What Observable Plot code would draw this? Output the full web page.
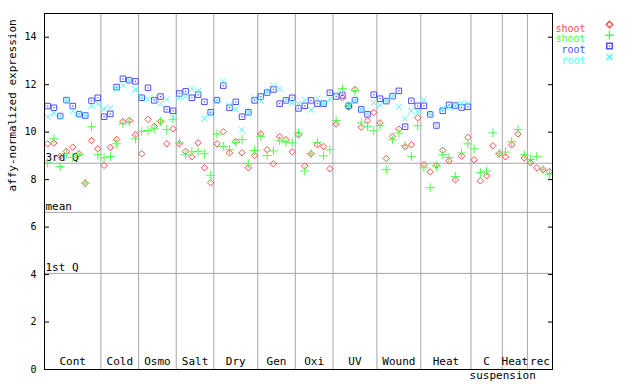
<!DOCTYPE html>
<html><head><meta charset="utf-8">
<script src="https://cdn.jsdelivr.net/npm/d3@7"></script>
<script src="https://cdn.jsdelivr.net/npm/@observablehq/plot@0.6"></script>
<style>body{margin:0;background:#fff}</style>
</head><body><div id="chart"></div>
<script>
const groups = ["Cont","Cold","Osmo","Salt","Dry","Gen","Oxi","UV","Wound","Heat","C","Heat","rec"];
const groupSizes = [9,6,6,6,7,6,6,7,7,8,5,4,4];
const subLabel = "suspension";
const subLabelGroup = 10;
const yLabel = "affy-normalized expression";

const shootRep1 = [9.51,9.54,8.99,9.19,9.37,9.09,7.85,9.65,9.30,
  8.60,9.36,9.69,10.45,10.49,9.89,
  9.09,10.54,10.24,10.45,9.51,10.14,
  9.51,9.19,8.96,9.55,8.50,7.87,
  9.51,10.02,9.13,9.61,9.13,8.50,9.02,
  9.93,9.26,8.67,9.82,9.69,9.17,
  9.89,8.57,9.09,9.47,9.40,8.46,
  10.34,11.45,11.05,11.80,10.21,10.49,10.83,
  10.39,8.89,9.82,10.13,9.38,9.47,10.61,
  8.63,8.33,8.60,9.23,8.79,7.99,8.99,9.78,
  8.84,7.95,8.16,9.43,9.09,
  8.96,9.47,9.93,8.91,
  8.71,8.50,8.42,8.34];
const shootRep2 = [8.71,9.72,8.55,9.09,8.93,9.06,7.85,10.23,9.05,
  8.92,8.98,9.51,10.35,10.45,9.72,
  10.03,10.07,10.14,10.46,10.11,10.54,
  9.54,9.05,9.17,9.19,9.09,8.18,
  9.92,9.40,9.26,9.57,9.69,8.67,9.23,
  9.82,9.02,9.21,9.64,9.58,9.55,
  9.96,8.37,9.09,9.57,9.00,9.26,
  10.49,11.83,11.10,11.76,10.39,10.25,10.06,
  10.27,8.42,9.68,9.96,9.44,8.98,10.27,
  8.50,7.66,8.57,9.05,8.93,8.13,9.12,9.51,
  9.30,8.29,8.36,9.97,9.09,
  9.16,9.60,10.11,9.05,
  8.85,8.98,8.43,8.23];
const rootRep1 = [11.10,11.03,10.68,11.35,11.10,10.76,10.70,11.32,11.45,
  10.65,10.77,11.90,12.25,12.19,12.14,
  11.45,11.87,11.34,11.50,10.96,10.90,
  11.63,11.72,11.45,11.58,11.28,10.84,
  11.35,11.96,11.03,11.28,10.65,10.84,11.34,
  11.50,11.67,11.80,11.20,11.34,11.45,
  11.00,11.11,11.34,11.20,11.20,11.66,
  11.50,11.55,11.11,11.35,10.96,10.75,11.58,
  11.41,11.31,11.52,11.74,10.23,11.32,11.11,
  11.11,10.75,10.28,10.90,11.15,11.12,11.04,11.07,
  null,null,null,null,null,
  null,null,null,null,
  null,null,null,null];
const rootRep2 = [10.65,10.80,10.68,11.35,10.89,10.76,10.70,11.11,11.20,
  10.98,11.03,11.83,11.97,12.19,11.80,
  11.45,11.38,11.45,11.20,11.38,10.61,
  11.45,11.52,11.83,11.74,10.57,10.77,
  11.35,12.14,11.15,10.96,10.10,10.84,11.45,
  11.31,11.70,11.94,11.83,11.34,11.24,
  11.20,11.35,10.94,11.42,11.20,11.38,
  11.63,11.63,11.10,11.35,10.96,10.75,11.24,
  11.15,11.31,11.52,11.07,10.58,10.90,10.86,
  11.36,10.77,10.28,11.00,11.05,11.10,11.20,11.20,
  null,null,null,null,null,
  null,null,null,null,
  null,null,null,null];

const refLabels = ["3rd Q","mean","1st Q"];
const refValues = [8.69, 6.62, 4.05];
const yTicks = [0,2,4,6,8,10,12,14];
const legendLabels = ["shoot","shoot","root","root"];

const colors = ["#ff4d4d","#4dff4d","#4d4dff","#4dffff"];
const symbols = ["diamond2","plus","square2","times"];
const radii = [2.9,3.0,3.5,2.8];
const series = [shootRep1, shootRep2, rootRep1, rootRep2];

const n = shootRep1.length;
const idx = d3.range(n);
const xOf = i => i + 0.5;
const bounds = Array.from(d3.cumsum(groupSizes));
const seps = bounds.slice(0, -1);
const mids = groupSizes.map((s, k) => bounds[k] - s / 2);
const font = "'DejaVu Sans Mono', monospace";
const grey = "#a6a6a6";

const marks = [
  Plot.ruleY(refValues, {stroke: grey}),
  Plot.ruleX(seps, {stroke: grey}),
  Plot.text(d3.range(refLabels.length), {x: 0, y: i => refValues[i], text: i => refLabels[i], textAnchor: "start", dx: 1, dy: -6, fill: "black", fontSize: 11}),
  Plot.text(groups, {x: (d, k) => mids[k], frameAnchor: "bottom", dy: -5, text: d => d, fill: "black", fontSize: 11}),
  Plot.text([subLabel], {x: mids[subLabelGroup], frameAnchor: "bottom", dy: 9, dx: 16, text: d => d, fill: "black", fontSize: 11}),
  Plot.text([yLabel], {frameAnchor: "left", rotate: -90, dx: -32, text: d => d, fill: "black", fontSize: 11})
];
series.forEach((s, k) => {
  marks.push(Plot.dot(idx, {x: xOf, y: i => s[i], symbol: symbols[k], r: radii[k], stroke: colors[k], strokeWidth: 1}));
  if (k === 2) marks.push(Plot.dot(idx, {x: xOf, y: i => s[i], symbol: "square", r: 0.7, fill: colors[k]}));
});
marks.push(
  Plot.axisY({anchor: "left", ticks: yTicks, tickSize: -5, tickPadding: 13, label: null}),
  Plot.axisY({anchor: "right", ticks: yTicks, tickSize: -5, tickFormat: () => "", label: null}),
  Plot.frame({stroke: "black"})
);
legendLabels.forEach((t, k) => {
  const dy = 11 + 10.8 * k;
  marks.push(Plot.text([t], {frameAnchor: "top-right", text: d => d, textAnchor: "end", dx: 33, dy, fill: colors[k], fontSize: 10}));
  marks.push(Plot.dot([t], {frameAnchor: "top-right", dx: 57, dy, symbol: symbols[k], r: radii[k], stroke: colors[k]}));
  if (k === 2) marks.push(Plot.dot([t], {frameAnchor: "top-right", dx: 57, dy, symbol: "square", r: 0.7, fill: colors[k]}));
});

const chart = Plot.plot({
  width: 640, height: 384,
  marginLeft: 44, marginRight: 88, marginTop: 13, marginBottom: 15,
  style: {fontFamily: font, fontSize: "10px", background: "white", color: "black", overflow: "visible"},
  x: {domain: [0, n], axis: null},
  y: {domain: [0, 15]},
  marks
});
document.getElementById("chart").append(chart);
</script>
</body></html>
